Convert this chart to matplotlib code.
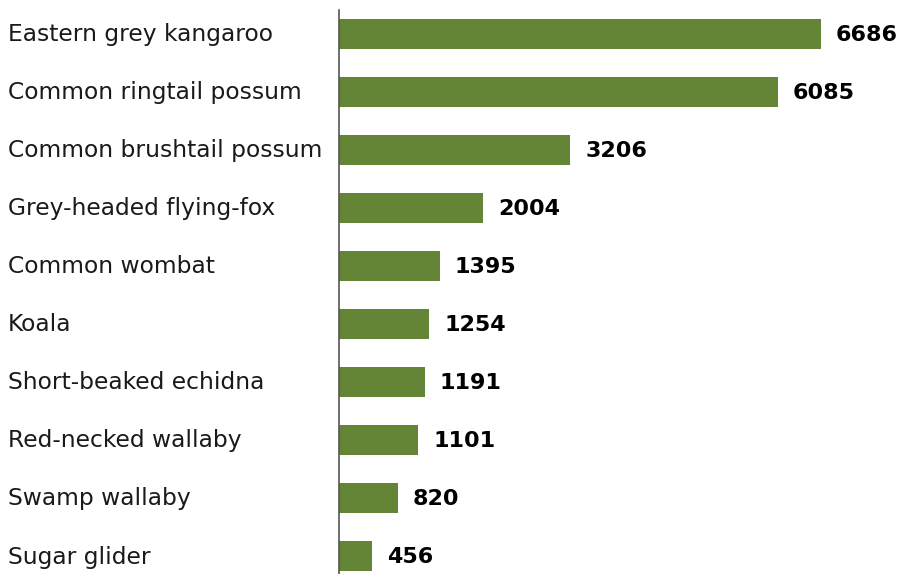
import matplotlib
matplotlib.use("Agg")
import matplotlib.pyplot as plt

categories = ["Eastern grey kangaroo", "Common ringtail possum", "Common brushtail possum",
              "Grey-headed flying-fox", "Common wombat", "Koala", "Short-beaked echidna",
              "Red-necked wallaby", "Swamp wallaby", "Sugar glider"]
values = [6686, 6085, 3206, 2004, 1395, 1254, 1191, 1101, 820, 456]

W, H = 901, 574
fig = plt.figure(figsize=(W / 100, H / 100), dpi=100)
ax = fig.add_axes([339 / W, 0, (W - 339) / W, (H - 10) / H])

y = list(range(len(categories)))
ax.barh(y, values, height=0.52, color="#648535")
ax.set_xlim(0, 7795)
ax.set_ylim(9.31, -0.41)

for s in ["top", "right", "bottom"]:
    ax.spines[s].set_visible(False)
ax.spines["left"].set_color("#555555")
ax.spines["left"].set_linewidth(1.2)
ax.set_xticks([])
ax.set_yticks([])

for yi, v in zip(y, values):
    ax.annotate(str(v), (v, yi), xytext=(15, -1), textcoords="offset pixels",
                va="center", ha="left", fontsize=16, fontweight="bold", family="DejaVu Sans", color="black")

for yi, c in zip(y, categories):
    ax.annotate(c, (0, yi), xycoords=("figure pixels", "data"), xytext=(8, -1), textcoords="offset pixels",
                va="center", ha="left", fontsize=16.8, family="DejaVu Sans", color="#1a1a1a")

fig.savefig("out.png", dpi=100)
